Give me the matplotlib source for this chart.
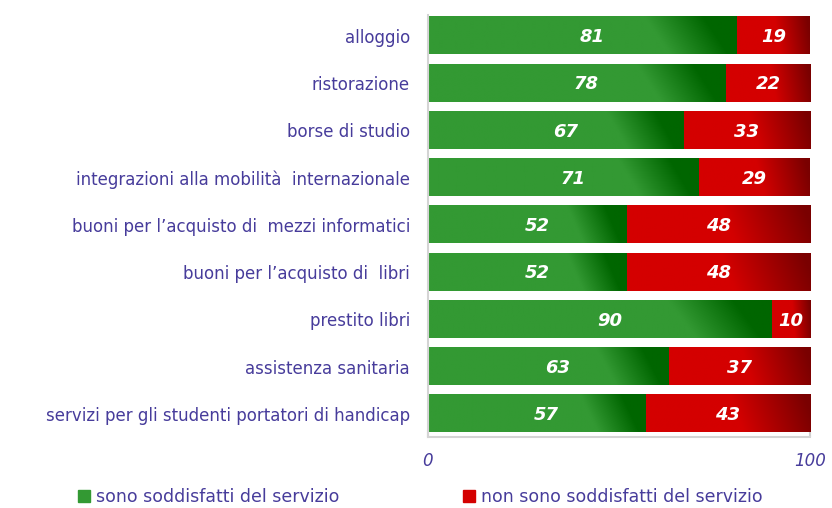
import numpy as np
import matplotlib
matplotlib.use('Agg')
import matplotlib.pyplot as plt
from matplotlib.colors import to_rgb
from matplotlib.patches import Patch

plt.rcParams['font.family'] = ['DejaVu Sans']

categories = ['alloggio', 'ristorazione', 'borse di studio',
              'integrazioni alla mobilità  internazionale',
              'buoni per l\u2019acquisto di  mezzi informatici',
              'buoni per l\u2019acquisto di  libri', 'prestito libri',
              'assistenza sanitaria',
              'servizi per gli studenti portatori di handicap']
soddisfatti = [81, 78, 67, 71, 52, 52, 90, 63, 57]
non_soddisfatti = [19, 22, 33, 29, 48, 48, 10, 37, 43]
legend_labels = ['sono soddisfatti del servizio', 'non sono soddisfatti del servizio']

txt_col = '#473c9b'
green, dgreen = '#339933', '#006600'
red, dred = '#d40000', '#7a0000'


def gradient_bar(ax, x0, width, yc, h, c1, c2, start, end):
    # diagonal gradient: light at lower left, dark at upper right
    nx, ny = 300, 30
    u = np.linspace(0, 1, nx)[None, :]
    v = np.linspace(0, 1, ny)[:, None]  # 0 = top row
    t = (u + 0.08 * (0.5 - v) - start) / (end - start)
    t = np.clip(t, 0, 1)[..., None]
    a, b = np.array(to_rgb(c1)), np.array(to_rgb(c2))
    img = a * (1 - t) + b * t
    ax.imshow(img, extent=(x0, x0 + width, yc + h / 2, yc - h / 2),
              aspect='auto', interpolation='bilinear', zorder=2)


fig = plt.figure(figsize=(8.32, 5.08), dpi=100)
ax = fig.add_axes([0.5144, 0.1398, 0.4592, 0.8307])

h = 0.79
ypos = np.arange(len(categories))
for i, (g, r) in enumerate(zip(soddisfatti, non_soddisfatti)):
    gradient_bar(ax, 0, g, i, h, green, dgreen, 0.74, 0.93)
    gradient_bar(ax, g, r, i, h, red, dred, 0.55, 1.0)
    ax.text(g / 2 + 2.5, i + 0.03, str(g), color='white', fontsize=13,
            fontweight='bold', fontstyle='italic', ha='center', va='center', zorder=3)
    ax.text(g + r / 2, i + 0.03, str(r), color='white', fontsize=13,
            fontweight='bold', fontstyle='italic', ha='center', va='center', zorder=3)

ax.set_xlim(0, 100)
ax.set_ylim(8.49, -0.44)
ax.set_yticks(ypos)
ax.set_yticklabels(categories, fontsize=12, color=txt_col)
ax.tick_params(axis='y', length=0, pad=13)
ax.set_xticks([0, 100])
ax.set_xticklabels(['0', '100'], fontsize=12, color=txt_col, fontstyle='italic')
ax.tick_params(axis='x', direction='in', length=5, color='#d0d0d0', width=1.5, pad=11)
for s in ['top', 'right']:
    ax.spines[s].set_visible(False)
for s in ['left', 'bottom']:
    ax.spines[s].set_color('#d4d4d4')
    ax.spines[s].set_linewidth(1.5)

handles = [Patch(facecolor=green, edgecolor=green), Patch(facecolor=red, edgecolor=red)]
fig.legend(handles, legend_labels, loc='center left', bbox_to_anchor=(0.075, 0.022),
           ncol=2, frameon=False, fontsize=12.5, labelcolor=txt_col,
           handlelength=0.7, handleheight=0.7, handletextpad=0.35, columnspacing=7.1)

fig.savefig('out.png', dpi=100)
